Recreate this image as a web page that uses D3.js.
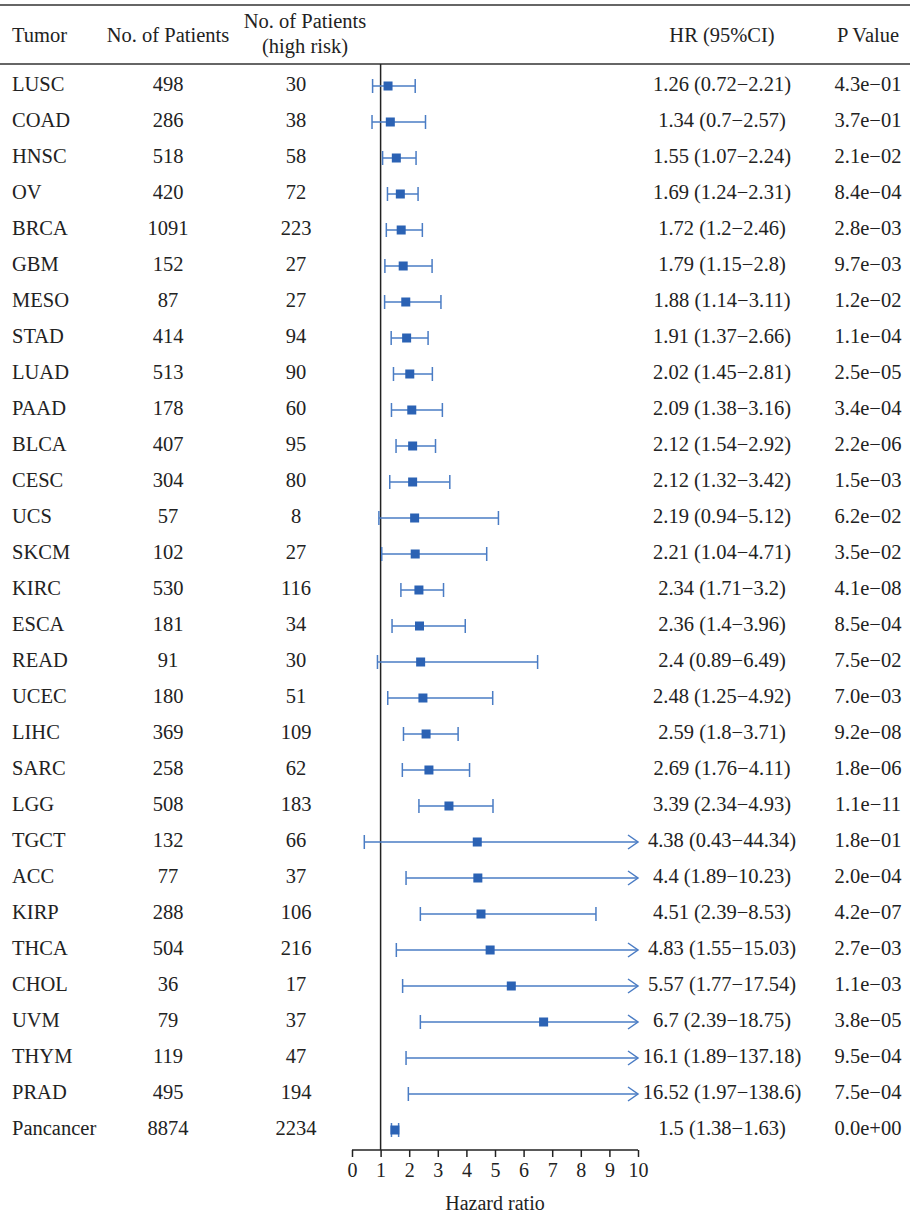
<!DOCTYPE html>
<html lang="en">
<head>
<meta charset="UTF-8">
<title>Forest plot</title>
<script src="https://cdn.jsdelivr.net/npm/d3@7"></script>
<style>
    body { margin: 0; background: #fff; }
    text { font-family: "Liberation Serif", "DejaVu Serif", serif; fill: #222; }
</style>
</head>
<body>
<svg width="910" height="1217"></svg>
<script>
// data
var tumors = ["LUSC","COAD","HNSC","OV","BRCA","GBM","MESO","STAD","LUAD","PAAD","BLCA","CESC","UCS","SKCM","KIRC","ESCA","READ","UCEC","LIHC","SARC","LGG","TGCT","ACC","KIRP","THCA","CHOL","UVM","THYM","PRAD","Pancancer"];
var nPatients = [498,286,518,420,1091,152,87,414,513,178,407,304,57,102,530,181,91,180,369,258,508,132,77,288,504,36,79,119,495,8874];
var nHighRisk = [30,38,58,72,223,27,27,94,90,60,95,80,8,27,116,34,30,51,109,62,183,66,37,106,216,17,37,47,194,2234];
var hr    = [1.26,1.34,1.55,1.69,1.72,1.79,1.88,1.91,2.02,2.09,2.12,2.12,2.19,2.21,2.34,2.36,2.4,2.48,2.59,2.69,3.39,4.38,4.4,4.51,4.83,5.57,6.7,16.1,16.52,1.5];
var lower = [0.72,0.7,1.07,1.24,1.2,1.15,1.14,1.37,1.45,1.38,1.54,1.32,0.94,1.04,1.71,1.4,0.89,1.25,1.8,1.76,2.34,0.43,1.89,2.39,1.55,1.77,2.39,1.89,1.97,1.38];
var upper = [2.21,2.57,2.24,2.31,2.46,2.8,3.11,2.66,2.81,3.16,2.92,3.42,5.12,4.71,3.2,3.96,6.49,4.92,3.71,4.11,4.93,44.34,10.23,8.53,15.03,17.54,18.75,137.18,138.6,1.63];
var pValues = ["4.3e−01","3.7e−01","2.1e−02","8.4e−04","2.8e−03","9.7e−03","1.2e−02","1.1e−04","2.5e−05","3.4e−04","2.2e−06","1.5e−03","6.2e−02","3.5e−02","4.1e−08","8.5e−04","7.5e−02","7.0e−03","9.2e−08","1.8e−06","1.1e−11","1.8e−01","2.0e−04","4.2e−07","2.7e−03","1.1e−03","3.8e−05","9.5e−04","7.5e−04","0.0e+00"];
var xTicks = [0,1,2,3,4,5,6,7,8,9,10];

var svg = d3.select("svg");
var fs = 20.5;
var lineCol = "#4a7cc4", boxCol = "#2b62b4";

var x = d3.scaleLinear().domain([0, 10]).range([352, 638]);
var y = d3.scaleBand().domain(d3.range(tumors.length)).range([68, 1148]).padding(0);
var cy = function(i) { return y(i) + y.bandwidth() / 2; };
var axisY = 1150;

// header rules
svg.append("line").attr("x1", 0).attr("x2", 910).attr("y1", 5).attr("y2", 5)
    .attr("stroke", "#333").attr("stroke-width", 1.5);
svg.append("line").attr("x1", 0).attr("x2", 910).attr("y1", 64).attr("y2", 64)
    .attr("stroke", "#333").attr("stroke-width", 1.5);

var head = svg.append("g").style("font-size", fs + "px");
head.append("text").attr("x", 12).attr("y", 42).text("Tumor");
head.append("text").attr("x", 168).attr("y", 42).attr("text-anchor", "middle").text("No. of Patients");
head.append("text").attr("x", 305).attr("y", 28).attr("text-anchor", "middle").text("No. of Patients");
head.append("text").attr("x", 305).attr("y", 53).attr("text-anchor", "middle").text("(high risk)");
head.append("text").attr("x", 722).attr("y", 42).attr("text-anchor", "middle").text("HR (95%CI)");
head.append("text").attr("x", 868).attr("y", 42).attr("text-anchor", "middle").text("P Value");

// reference line at HR = 1
svg.append("line").attr("x1", x(1)).attr("x2", x(1)).attr("y1", 64).attr("y2", axisY)
    .attr("stroke", "#222").attr("stroke-width", 1.5);

// text columns
var rows = svg.append("g").selectAll("g").data(tumors).join("g")
    .attr("transform", function(d, i) { return "translate(0," + (cy(i) + 5) + ")"; })
    .style("font-size", fs + "px");
rows.append("text").attr("x", 12).text(function(d) { return d; });
rows.append("text").attr("x", 168).attr("text-anchor", "middle").text(function(d, i) { return nPatients[i]; });
rows.append("text").attr("x", 296).attr("text-anchor", "middle").text(function(d, i) { return nHighRisk[i]; });
rows.append("text").attr("x", 722).attr("text-anchor", "middle")
    .text(function(d, i) { return hr[i] + " (" + lower[i] + "−" + upper[i] + ")"; });
rows.append("text").attr("x", 868).attr("text-anchor", "middle").text(function(d, i) { return pValues[i]; });

// error bars
var max = x.domain()[1];
var bars = svg.append("g").selectAll("g").data(tumors).join("g");
bars.append("line")
    .attr("x1", function(d, i) { return x(lower[i]); })
    .attr("x2", function(d, i) { return x(Math.min(upper[i], max)); })
    .attr("y1", function(d, i) { return cy(i); })
    .attr("y2", function(d, i) { return cy(i); })
    .attr("stroke", lineCol).attr("stroke-width", 1.5);
bars.append("line")
    .attr("x1", function(d, i) { return x(lower[i]); })
    .attr("x2", function(d, i) { return x(lower[i]); })
    .attr("y1", function(d, i) { return cy(i) - 7; })
    .attr("y2", function(d, i) { return cy(i) + 7; })
    .attr("stroke", lineCol).attr("stroke-width", 1.5);
bars.filter(function(d, i) { return upper[i] <= max; }).append("line")
    .attr("x1", function(d) { var i = tumors.indexOf(d); return x(upper[i]); })
    .attr("x2", function(d) { var i = tumors.indexOf(d); return x(upper[i]); })
    .attr("y1", function(d) { return cy(tumors.indexOf(d)) - 7; })
    .attr("y2", function(d) { return cy(tumors.indexOf(d)) + 7; })
    .attr("stroke", lineCol).attr("stroke-width", 1.5);
bars.filter(function(d, i) { return upper[i] > max; }).append("path")
    .attr("d", function(d) {
        var c = cy(tumors.indexOf(d)), e = x(max);
        return "M" + (e - 10) + "," + (c - 7) + "L" + e + "," + c + "L" + (e - 10) + "," + (c + 7);
    })
    .attr("fill", "none").attr("stroke", lineCol).attr("stroke-width", 1.5);
bars.filter(function(d, i) { return hr[i] <= max; }).append("rect")
    .attr("x", function(d) { return x(hr[tumors.indexOf(d)]) - 4.5; })
    .attr("y", function(d) { return cy(tumors.indexOf(d)) - 4.5; })
    .attr("width", 9).attr("height", 9)
    .attr("fill", boxCol);

// axis
var axis = svg.append("g").attr("transform", "translate(0," + axisY + ")")
    .call(d3.axisBottom(x).tickValues(xTicks).tickSize(7).tickPadding(6));
axis.select(".domain").attr("stroke", "#222").attr("stroke-width", 1.5)
    .attr("d", "M" + x(0) + ",0H" + x(10));
axis.selectAll(".tick line").attr("stroke", "#222").attr("stroke-width", 1.5);
axis.selectAll("text").style("font-family", "Liberation Serif, serif").style("font-size", "20px").attr("fill", "#222");

svg.append("text").attr("x", x(5)).attr("y", 1210).attr("text-anchor", "middle")
    .style("font-size", "20px").text("Hazard ratio");
</script>
</body>
</html>
